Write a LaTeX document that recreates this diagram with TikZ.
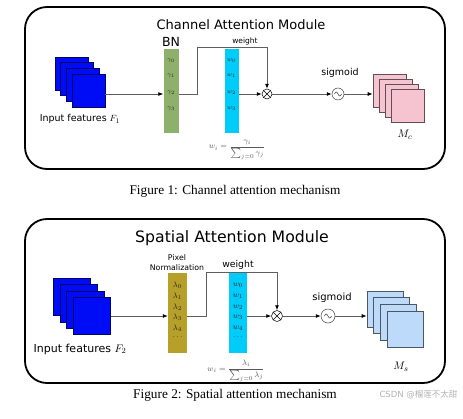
\documentclass[tikz,border=0pt]{standalone}
\usepackage{fontspec}
\setmainfont{Liberation Serif}
\setsansfont{DejaVu Sans}
\newfontfamily\cjkfont{Noto Sans CJK SC}
\usepackage{tikz}
\usetikzlibrary{arrows.meta,positioning}

\definecolor{fmblue}{RGB}{0,12,245}
\definecolor{bngreen}{RGB}{141,176,106}
\definecolor{wcyan}{RGB}{0,204,250}
\definecolor{pnolive}{RGB}{182,160,42}
\definecolor{mcpink}{RGB}{246,196,208}
\definecolor{msblue}{RGB}{190,218,250}
\definecolor{linegray}{RGB}{95,95,95}

\begin{document}
\begin{tikzpicture}[>={Latex[length=5pt,width=4pt,color=black]}, x=1pt, y=-1pt,
  every node/.style={align=center},
  frame/.style={draw, line width=1.8pt, rounded corners=22pt},
  fmap/.style={draw=#1!40!black, fill=#1, inner sep=0pt, line width=0.6pt},
  bar/.style={fill=#1, inner sep=0pt},
  barlbl/.style={inner sep=0pt, text=black!85},
  conn/.style={draw=linegray, line width=0.8pt},
  mul/.style={circle, draw, fill=white, minimum size=#1, inner sep=0pt, line width=0.5pt,
    path picture={\draw[line width=0.5pt] (path picture bounding box.north west) -- (path picture bounding box.south east)
      (path picture bounding box.north east) -- (path picture bounding box.south west);}},
  sig/.style={circle, draw=black!75, fill=white, minimum size=#1, inner sep=0pt, line width=0.5pt,
    path picture={\draw[line width=0.5pt] ([xshift=-3.6pt]path picture bounding box.center)
      sin ++(1.8pt,2pt) cos ++(1.8pt,-2pt) sin ++(1.8pt,-2pt) cos ++(1.8pt,2pt);}},
  formula/.style={text=black!65, font=\fontsize{8.5}{9}\selectfont}]
  \useasboundingbox (0,0) rectangle (463,418);

  % Channel attention module
  \draw[frame] (25,7) rectangle (445,169);
  \node (title1) [font=\sffamily\fontsize{13}{15}\selectfont] at (241,25) {Channel Attention Module};

  \foreach \i in {0,...,3}
    \node (in\i) [fmap=fmblue, minimum size=33pt] at (71.5+5.67*\i,73.5+5.67*\i) {};
  \node (inlbl1) [font=\sffamily\fontsize{9.5}{11}\selectfont] at (80,119) {Input features $F_1$};

  \node (bn) [bar=bngreen, minimum width=15pt, minimum height=84pt] at (171,91) {};
  \node (bnlbl) [above=2pt of bn, inner sep=0pt, font=\sffamily\fontsize{12.5}{14}\selectfont] {BN};
  \foreach \k/\yy in {0/61,1/76,2/93,3/109}
    \node (ga\k) [barlbl, font=\fontsize{6}{7}\selectfont] at (171,\yy) {$\gamma_{\k}$};

  \node (wb1) [bar=wcyan, minimum width=14pt, minimum height=84pt] at (231.5,91) {};
  \foreach \k/\yy in {0/61,1/76,2/93,3/109}
    \node (wa\k) [barlbl, font=\fontsize{6}{7}\selectfont] at (231.5,\yy) {$w_{\k}$};

  \node (mul1) [mul=10pt] at (267,94) {};
  \node (sig1) [sig=12pt] at (338,94) {};
  \node (siglbl1) [font=\sffamily\fontsize{9.5}{11}\selectfont] at (340,73) {sigmoid};

  \foreach \i in {0,...,3}
    \node (mc\i) [fmap=mcpink, minimum size=33pt] at (389.5+6*\i,90.5+5*\i) {};
  \node (mclbl) [font=\fontsize{11}{12}\selectfont] at (405,135) {$M_c$};

  \node (eq1) [formula] at (237,150) {$\displaystyle w_i=\frac{\gamma_i}{\sum_{j=0}\gamma_j}$};

  \coordinate (turn1) at (197,47);
  \node (wlbl1) [font=\sffamily\fontsize{7.5}{9}\selectfont] at (245,41) {weight};
  \draw[conn,->] (in3.east |- mul1) -- (bn.west |- mul1);
  \draw[conn,->] (bn.east |- mul1) -| (turn1) -| (mul1.north);
  \draw[conn,->] (wb1.east |- mul1) -- (mul1.west);
  \draw[conn,->] (mul1.east) -- (sig1.west);
  \draw[conn,->] (sig1.east) -- (sig1 -| mc0.west);

  \node (cap1) [font=\fontsize{13.3}{15}\selectfont] at (235,191) {Figure 1: Channel attention mechanism};

  % Spatial attention module
  \draw[frame] (25,219) rectangle (445,383);
  \node (title2) [font=\sffamily\fontsize{15.7}{18}\selectfont] at (232,238) {Spatial Attention Module};

  \foreach \i in {0,...,3}
    \node (inb\i) [fmap=fmblue, minimum size=37.5pt] at (72+6.67*\i,297+6.33*\i) {};
  \node (inlbl2) [font=\sffamily\fontsize{11}{13}\selectfont] at (80,349) {Input features $F_2$};

  \node (pn) [bar=pnolive, minimum width=19pt, minimum height=80pt] at (177.5,313) {};
  \node (pnlbl) [font=\sffamily\fontsize{7.8}{10.5}\selectfont] at (177,262.5) {Pixel\\Normalization};
  \foreach \k/\yy in {0/285,1/296,2/307,3/317,4/328}
    \node (la\k) [barlbl, font=\fontsize{8}{9}\selectfont] at (177.5,\yy) {$\lambda_{\k}$};
  \node (ladots) [barlbl, font=\fontsize{8}{9}\selectfont] at (177.5,337) {$\ldots$};

  \node (wb2) [bar=wcyan, minimum width=18pt, minimum height=80pt] at (238,313) {};
  \foreach \k/\yy in {0/285,1/296,2/307,3/317,4/328}
    \node (wc\k) [barlbl, font=\fontsize{8}{9}\selectfont] at (238,\yy) {$w_{\k}$};
  \node (wcdots) [barlbl, font=\fontsize{8}{9}\selectfont] at (238,337) {$\ldots$};

  \node (mul2) [mul=11pt] at (277,316) {};
  \node (sig2) [sig=14pt] at (328,316) {};
  \node (siglbl2) [font=\sffamily\fontsize{10}{12}\selectfont] at (332,298) {sigmoid};

  \foreach \i in {0,...,3}
    \node (ms\i) [fmap=msblue, minimum size=36pt] at (385+6.67*\i,309+6.67*\i) {};
  \node (mslbl) [font=\fontsize{11}{12}\selectfont] at (401,367) {$M_s$};

  \node (eq2) [formula] at (236,371) {$\displaystyle w_i=\frac{\lambda_i}{\sum_{j=0}\lambda_j}$};

  \coordinate (turn2) at (206,272);
  \node (wlbl2) [font=\sffamily\fontsize{9.3}{11}\selectfont] at (238,265) {weight};
  \draw[conn,->] (inb3.east |- mul2) -- (pn.west |- mul2);
  \draw[conn,->] (pn.east |- mul2) -| (turn2) -| (mul2.north);
  \draw[conn,->] (wb2.east |- mul2) -- (mul2.west);
  \draw[conn,->] (mul2.east) -- (sig2.west);
  \draw[conn,->] (sig2.east) -- (sig2 -| ms0.west);

  \node (cap2) [font=\fontsize{13.3}{15}\selectfont] at (235,395) {Figure 2: Spatial attention mechanism};
  \node (mark) [anchor=east, text=black!30, font=\sffamily\fontsize{8.5}{10}\selectfont] at (461,395) {CSDN @{\cjkfont 榴莲不太甜}};
\end{tikzpicture}
\end{document}
